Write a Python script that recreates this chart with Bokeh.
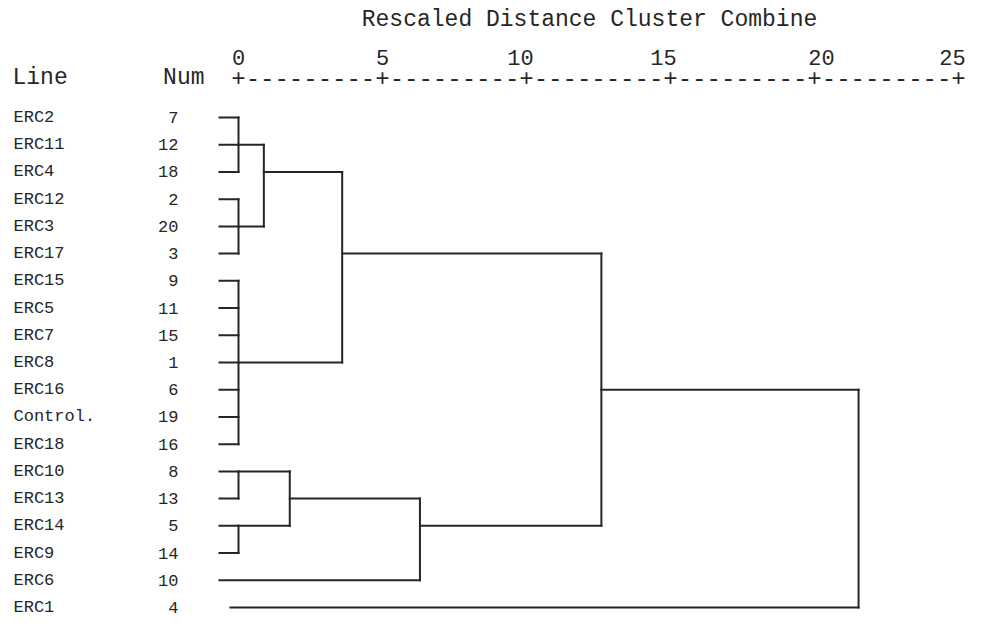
from bokeh.plotting import figure
from bokeh.models import ColumnDataSource, Range1d
from bokeh.core.properties import value
from bokeh.embed import file_html
from bokeh.resources import INLINE
import math

# ---------------- data ----------------
chart_title = "Rescaled Distance Cluster Combine"
header_line = "Line"
header_num = "Num"

line_labels = ["ERC2", "ERC11", "ERC4", "ERC12", "ERC3", "ERC17", "ERC15", "ERC5",
               "ERC7", "ERC8", "ERC16", "Control.", "ERC18", "ERC10", "ERC13",
               "ERC14", "ERC9", "ERC6", "ERC1"]
line_nums = [7, 12, 18, 2, 20, 3, 9, 11, 15, 1, 6, 19, 16, 8, 13, 5, 14, 10, 4]

# merges: children ids (leaves 0..18, new clusters numbered from 19 on) and rescaled distance
merge_children = [[0, 1, 2], [3, 4, 5], [19, 20], [6, 7, 8, 9, 10, 11, 12],
                  [21, 22], [13, 14], [15, 16], [24, 25], [26, 17], [23, 27], [28, 18]]
merge_heights = [0.0, 0.0, 0.88, 0.0, 3.60, 0.0, 0.0, 1.78, 6.30, 12.60, 21.53]

axis_ticks = [0, 5, 10, 15, 20, 25]
axis_tick_labels = ["0", "5", "10", "15", "20", "25"]

# ---------------- styles / layout ----------------
FONT = value("Liberation Mono")
INK = "#262626"
W, H = 967, 619
PX_PER_UNIT = 28.8
X0_PX = 238.0
ROW0_PX = 117.0
ROW_PX = (607.0 - ROW0_PX) / 18

leaf_start = -0.66
last_leaf_start = -0.28
tick_label_offsets = [0, 0, -6, -7, 7, -6]

x_start = -X0_PX / PX_PER_UNIT
x_end = x_start + W / PX_PER_UNIT
y_top = -ROW0_PX / ROW_PX
y_bottom = y_top + H / ROW_PX


def px_to_x(px):
    return (px - X0_PX) / PX_PER_UNIT


def px_to_row(py):
    return (py - ROW0_PX) / ROW_PX


title_row = px_to_row(19)
tick_row = px_to_row(57)
header_row = px_to_row(77)

p = figure(width=W, height=H, output_backend="svg", toolbar_location=None,
           x_range=Range1d(x_start, x_end), y_range=Range1d(y_bottom, y_top),
           x_axis_type=None, y_axis_type=None, min_border=0,
           outline_line_color=None, background_fill_color="white",
           border_fill_color="white")
p.grid.visible = False

# ---------------- dendrogram geometry ----------------
n = len(line_labels)
row_of = {i: i for i in range(n)}
height_of = {}
parent_height = {}
for k, (ch, h) in enumerate(zip(merge_children, merge_heights)):
    cid = n + k
    rows = [row_of[c] for c in ch]
    row_of[cid] = int(math.floor((min(rows) + max(rows)) / 2))
    height_of[cid] = h
    for c in ch:
        parent_height[c] = h

x0s, y0s, x1s, y1s = [], [], [], []
# leaf stubs
for i in range(n):
    start = last_leaf_start if i == n - 1 else leaf_start
    x0s.append(start); x1s.append(parent_height[i]); y0s.append(i); y1s.append(i)
# cluster verticals and horizontals
for k, ch in enumerate(merge_children):
    cid = n + k
    h = height_of[cid]
    rows = [row_of[c] for c in ch]
    x0s.append(h); x1s.append(h); y0s.append(min(rows)); y1s.append(max(rows))
    if cid in parent_height:
        x0s.append(h); x1s.append(parent_height[cid])
        y0s.append(row_of[cid]); y1s.append(row_of[cid])

seg = ColumnDataSource(dict(x0=x0s, y0=y0s, x1=x1s, y1=y1s))
p.segment("x0", "y0", "x1", "y1", source=seg, line_color=INK, line_width=2,
          line_cap="square")

# ---------------- text ----------------
rows = list(range(n))
p.text(x=[px_to_x(13)] * n, y=rows, text=line_labels, text_font=FONT,
       text_font_size="17px", text_color=INK, text_align="left",
       text_baseline="middle")
p.text(x=[px_to_x(178)] * n, y=rows, text=[str(v) for v in line_nums], text_font=FONT,
       text_font_size="17px", text_color=INK, text_align="right",
       text_baseline="middle")

p.text(x=[px_to_x(12)], y=[header_row], text=[header_line], text_font=FONT,
       text_font_size="23px", text_color=INK, text_align="left", text_baseline="middle")
p.text(x=[px_to_x(204)], y=[header_row], text=[header_num], text_font=FONT,
       text_font_size="23px", text_color=INK, text_align="right", text_baseline="middle")

axis_str = "+" + "+".join(["-" * 9] * (len(axis_ticks) - 1)) + "+"
p.text(x=[(axis_ticks[0] + axis_ticks[-1]) / 2], y=[header_row], text=[axis_str],
       text_font=FONT, text_font_size="24px", text_color=INK, text_align="center",
       text_baseline="middle")

tick_src = ColumnDataSource(dict(x=axis_ticks, y=[tick_row] * len(axis_ticks),
                                 t=axis_tick_labels, off=tick_label_offsets))
p.text(x="x", y="y", text="t", x_offset="off", source=tick_src, text_font=FONT,
       text_font_size="22px", text_color=INK, text_align="center", text_baseline="middle")

p.text(x=[px_to_x(589)], y=[title_row], text=[chart_title],
       text_font=FONT, text_font_size="23px", text_color=INK, text_align="center",
       text_baseline="middle")

open("out.html", "w").write(file_html(p, INLINE))
